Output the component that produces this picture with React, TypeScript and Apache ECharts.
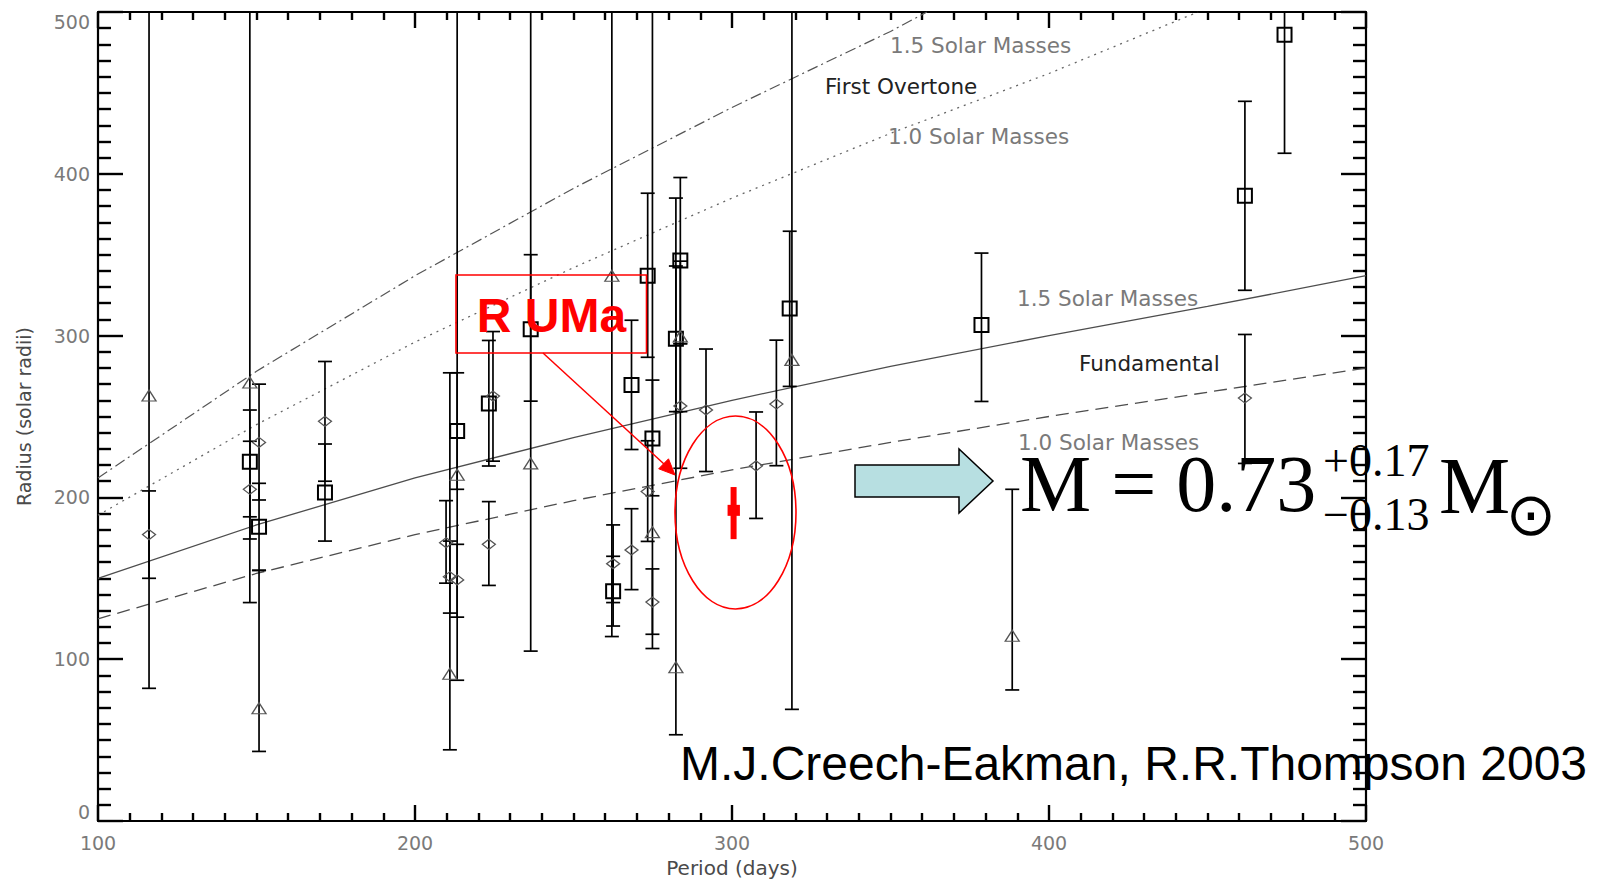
import React, { useEffect, useRef } from "react";
import * as echarts from "echarts";

// Axis ranges / ticks
const xRange = [100, 500];
const yRange = [0, 500];
const xTickStep = 100;
const yTickStep = 100;

// Theoretical period-radius relations: [period (days), radius (solar radii)]
const fundamental15 = [[100, 150], [150, 183], [200, 212], [250, 237], [300, 260], [350, 281], [400, 300], [450, 318], [500, 337]];
const fundamental10 = [[100, 125], [150, 153], [200, 177], [250, 198], [300, 217], [350, 234], [400, 250], [450, 265], [500, 280]];
const overtone15 = [[100, 212], [150, 278], [200, 337], [250, 391], [300, 441], [350, 488], [361.5, 500]];
const overtone10 = [[100, 189], [150, 245], [200, 296], [250, 342], [300, 385], [350, 425], [400, 462], [447, 500]];

// Stars: [period, radius, radius low, radius high]  (high > 500 runs off the top)
const squares = [
  [147.9, 222, 188, 254],
  [150.8, 181.8, 154.8, 208.7],
  [171.6, 203, 173, 233],
  [213.3, 241, 205, 277],
  [223.3, 258, 219.4, 297],
  [236.5, 304, 259.5, 350],
  [262.5, 142, 120.5, 163.6],
  [268.3, 269.5, 229.6, 309.5],
  [273.4, 337, 286.6, 388],
  [274.9, 236.4, 201, 272.5],
  [282.3, 298, 253, 343],
  [283.7, 346.4, 295, 397.7],
  [318.2, 316.7, 268.6, 364.5],
  [378.7, 306.5, 259.3, 351],
  [461.8, 386.4, 328, 444.8],
  [474.3, 486, 412.7, 560],
];
const diamonds = [
  [116.1, 177, 150, 204],
  [147.9, 205, 174.3, 234.7],
  [150.8, 234, 198.4, 270],
  [171.6, 247, 210, 284],
  [209.8, 172, 147, 198],
  [211.0, 151, 128.5, 173],
  [213.3, 149, 126, 171],
  [223.3, 171, 145.6, 197.4],
  [224.6, 262.6, 222.4, 302.5],
  [262.5, 159, 135, 183],
  [268.3, 167.5, 143, 193],
  [273.4, 203.6, 172.8, 235],
  [274.9, 135.3, 115.4, 155.8],
  [283.7, 256.5, 218, 295],
  [291.8, 254, 216, 291.7],
  [307.6, 219.5, 187, 252.8],
  [314.0, 257.7, 219.6, 297.2],
  [461.8, 261.4, 221, 300.7],
];
const triangles = [
  [116.1, 263, 82, 560],
  [147.9, 271, 135, 560],
  [150.8, 69.7, 43, 155],
  [211.0, 91, 44, 277],
  [213.3, 214, 87, 560],
  [236.5, 221, 105, 560],
  [262.1, 337, 114, 560],
  [274.9, 178.5, 106.6, 560],
  [282.3, 95, 53.3, 385],
  [283.7, 299.5, 253, 346],
  [318.9, 285, 69, 560],
  [388.4, 114.5, 81, 205],
];
// R UMa: [period, radius, radius low, radius high, period low, period high]
const rUMa = [[300.5, 192, 174.2, 206.4, 298.6, 302.5]];

const errorData = [...squares, ...diamonds, ...triangles];

const serifFont = '"Liberation Serif", "Times New Roman", serif';
const sansFont = '"Liberation Sans", Arial, sans-serif';
const idlFont = '"DejaVu Sans", Verdana, sans-serif';

function label(text: string, x: number, y: number, color: string) {
  return {
    type: "text",
    x,
    y,
    z: 50,
    style: {
      text,
      fill: color,
      fontSize: 21.5,
      lineHeight: 18,
      fontFamily: idlFont,
      align: "left",
      verticalAlign: "middle",
      textAlign: "left",
      textVerticalAlign: "middle",
    },
  };
}

function txt(text: string, x: number, y: number, size: number, family: string, opts: any = {}) {
  return {
    type: "text",
    x,
    y,
    z: 60,
    style: {
      text,
      fill: opts.fill || "#000",
      fontSize: size,
      lineHeight: opts.lineHeight || size,
      fontFamily: family,
      fontWeight: opts.weight || "normal",
      align: opts.align || "left",
      verticalAlign: "middle",
      textAlign: opts.align || "left",
      textVerticalAlign: "middle",
    },
  };
}

export default function App() {
  const ref = useRef<HTMLDivElement>(null);

  useEffect(() => {
    if (!ref.current) return;
    const chart = echarts.init(ref.current, undefined, { renderer: "svg" });

    const tickColor = "#000";
    const mkX = () => ({
      type: "value",
      min: xRange[0],
      max: xRange[1],
      interval: xTickStep,
      splitLine: { show: false },
      axisLine: { show: true, onZero: false, lineStyle: { color: "#000", width: 2.2 } },
      axisTick: { show: true, inside: true, length: 16, lineStyle: { color: tickColor, width: 2.4 } },
      minorTick: { show: true, splitNumber: 10, length: 8, lineStyle: { color: tickColor, width: 2.4 } },
    });
    const mkY = () => ({
      type: "value",
      min: yRange[0],
      max: yRange[1],
      interval: yTickStep,
      splitLine: { show: false },
      axisLine: { show: true, onZero: false, lineStyle: { color: "#000", width: 2.2 } },
      axisTick: { show: true, inside: true, length: 25, lineStyle: { color: tickColor, width: 2.4 } },
      minorTick: { show: true, splitNumber: 10, length: 13, lineStyle: { color: tickColor, width: 2.4 } },
    });

    const errorBarItem = (params: any, api: any) => {
      const x = api.value(0);
      const lo = api.value(2);
      const hi = api.value(3);
      const top = Math.min(hi, yRange[1]);
      const pLo = api.coord([x, lo]);
      const pHi = api.coord([x, top]);
      const w = 7;
      const style = { stroke: "#000", lineWidth: 1.7, fill: null };
      const children: any[] = [
        { type: "line", shape: { x1: pLo[0], y1: pLo[1], x2: pHi[0], y2: pHi[1] }, style },
        { type: "line", shape: { x1: pLo[0] - w, y1: pLo[1], x2: pLo[0] + w, y2: pLo[1] }, style },
      ];
      if (hi <= yRange[1]) {
        children.push({ type: "line", shape: { x1: pHi[0] - w, y1: pHi[1], x2: pHi[0] + w, y2: pHi[1] }, style });
      }
      return { type: "group", children };
    };

    const rUMaItem = (params: any, api: any) => {
      const x = api.value(0);
      const y = api.value(1);
      const pLo = api.coord([x, api.value(2)]);
      const pHi = api.coord([x, api.value(3)]);
      const pxLo = api.coord([api.value(4), y]);
      const pxHi = api.coord([api.value(5), y]);
      return {
        type: "group",
        children: [
          { type: "rect", shape: { x: pLo[0] - 3, y: pHi[1], width: 6, height: pLo[1] - pHi[1] }, style: { fill: "#ff0000" } },
          { type: "rect", shape: { x: pxLo[0], y: pxLo[1] - 5.5, width: pxHi[0] - pxLo[0], height: 11 }, style: { fill: "#ff0000" } },
        ],
      };
    };

    const lineCommon = {
      type: "line",
      showSymbol: false,
      symbol: "none",
      silent: true,
      z: 1,
    };

    const option: any = {
      animation: false,
      backgroundColor: "#ffffff",
      grid: { left: 98, right: 234, top: 12, bottom: 58, containLabel: false },
      xAxis: [
        {
          ...mkX(),
          position: "bottom",
          axisLabel: { color: "#7a7a7a", fontSize: 19, fontFamily: idlFont, margin: 12 },
          name: "Period (days)",
          nameLocation: "middle",
          nameGap: 37,
          nameTextStyle: { color: "#4a4a4a", fontSize: 20, fontFamily: idlFont },
        },
        { ...mkX(), position: "top", axisLabel: { show: false } },
      ],
      yAxis: [
        {
          ...mkY(),
          position: "left",
          axisLabel: {
            color: "#7a7a7a",
            fontSize: 19,
            fontFamily: idlFont,
            margin: 8,
            verticalAlignMinLabel: "bottom",
            verticalAlignMaxLabel: "top",
          },
          name: "Radius (solar radii)",
          nameLocation: "middle",
          nameRotate: 90,
          nameGap: 65,
          nameTextStyle: { color: "#4a4a4a", fontSize: 19, fontFamily: idlFont },
        },
        { ...mkY(), position: "right", axisLabel: { show: false } },
      ],
      series: [
        { ...lineCommon, name: "1.5 Solar Masses (Fundamental)", data: fundamental15, lineStyle: { color: "#4d4d4d", width: 1.3, type: "solid" } },
        { ...lineCommon, name: "1.0 Solar Masses (Fundamental)", data: fundamental10, lineStyle: { color: "#4d4d4d", width: 1.3, type: [13, 7] } },
        { ...lineCommon, name: "1.5 Solar Masses (First Overtone)", data: overtone15, lineStyle: { color: "#555", width: 1.2, type: [11, 4, 2, 4] } },
        { ...lineCommon, name: "1.0 Solar Masses (First Overtone)", data: overtone10, lineStyle: { color: "#666", width: 1.3, type: [2, 5] } },
        {
          type: "custom",
          name: "error bars",
          renderItem: errorBarItem,
          encode: { x: 0, y: [1, 2, 3] },
          data: errorData,
          clip: true,
          silent: true,
          z: 3,
        },
        {
          type: "scatter",
          name: "squares",
          data: squares.map((d) => [d[0], d[1]]),
          symbol: "rect",
          symbolSize: 14,
          itemStyle: { color: "rgba(0,0,0,0)", borderColor: "#000", borderWidth: 2, opacity: 1 },
          silent: true,
          z: 5,
        },
        {
          type: "scatter",
          name: "diamonds",
          data: diamonds.map((d) => [d[0], d[1]]),
          symbol: "diamond",
          symbolSize: [13, 10],
          itemStyle: { color: "rgba(0,0,0,0)", borderColor: "#555", borderWidth: 1.3, opacity: 1 },
          silent: true,
          z: 5,
        },
        {
          type: "scatter",
          name: "triangles",
          data: triangles.map((d) => [d[0], d[1]]),
          symbol: "triangle",
          symbolSize: [14, 11],
          itemStyle: { color: "rgba(0,0,0,0)", borderColor: "#555", borderWidth: 1.3, opacity: 1 },
          silent: true,
          z: 5,
        },
        {
          type: "custom",
          name: "R UMa",
          renderItem: rUMaItem,
          encode: { x: [0, 4, 5], y: [1, 2, 3] },
          data: rUMa,
          silent: true,
          z: 6,
        },
      ],
      graphic: {
        elements: [
          label("1.5 Solar Masses", 890, 45, "#7a7a7a"),
          label("First Overtone", 825, 86, "#222"),
          label("1.0 Solar Masses", 888, 136, "#7a7a7a"),
          label("1.5 Solar Masses", 1017, 298, "#7a7a7a"),
          label("Fundamental", 1079, 363, "#222"),
          label("1.0 Solar Masses", 1018, 442, "#7a7a7a"),
          {
            type: "rect",
            z: 70,
            shape: { x: 456, y: 275, width: 190.5, height: 78 },
            style: { fill: "none", stroke: "#ff0000", lineWidth: 1.6 },
          },
          txt("R UMa", 551.5, 315.5, 48, sansFont, { fill: "#ff0000", weight: "bold", align: "center", lineHeight: 40 }),
          {
            type: "line",
            z: 70,
            shape: { x1: 543, y1: 353, x2: 664, y2: 464 },
            style: { stroke: "#ff0000", lineWidth: 1.5 },
          },
          {
            type: "polygon",
            z: 70,
            shape: { points: [[675, 475], [658.7, 468.8], [668.5, 458.8]] },
            style: { fill: "#ff0000", stroke: "#ff0000", lineWidth: 1 },
          },
          {
            type: "ellipse",
            z: 70,
            shape: { cx: 735.5, cy: 512.5, rx: 60.5, ry: 96.5 },
            style: { fill: "none", stroke: "#ff0000", lineWidth: 1.6 },
          },
          {
            type: "polygon",
            z: 70,
            shape: { points: [[855, 465], [959, 465], [959, 449], [993, 481], [959, 513], [959, 497], [855, 497]] },
            style: { fill: "#b7dfe1", stroke: "#000", lineWidth: 1.5 },
          },
          txt("M = 0.73", 1020, 484, 80, serifFont, { lineHeight: 56 }),
          txt("+0.17", 1323, 460.5, 46, serifFont, { lineHeight: 34 }),
          txt("\u22120.13", 1323, 514.5, 46, serifFont, { lineHeight: 34 }),
          txt("M", 1439, 486, 80, serifFont, { lineHeight: 56 }),
          txt("\u2299", 1531, 514, 60, idlFont, { align: "center", lineHeight: 44 }),
          txt("M.J.Creech-Eakman, R.R.Thompson 2003", 680, 763.5, 48, sansFont, { lineHeight: 40 }),
        ],
      },
    };

    chart.setOption(option);
    return () => chart.dispose();
  }, []);

  return (
    <div
      ref={ref}
      style={{ position: "absolute", left: 0, top: 0, width: 1600, height: 883, background: "#fff" }}
    />
  );
}
